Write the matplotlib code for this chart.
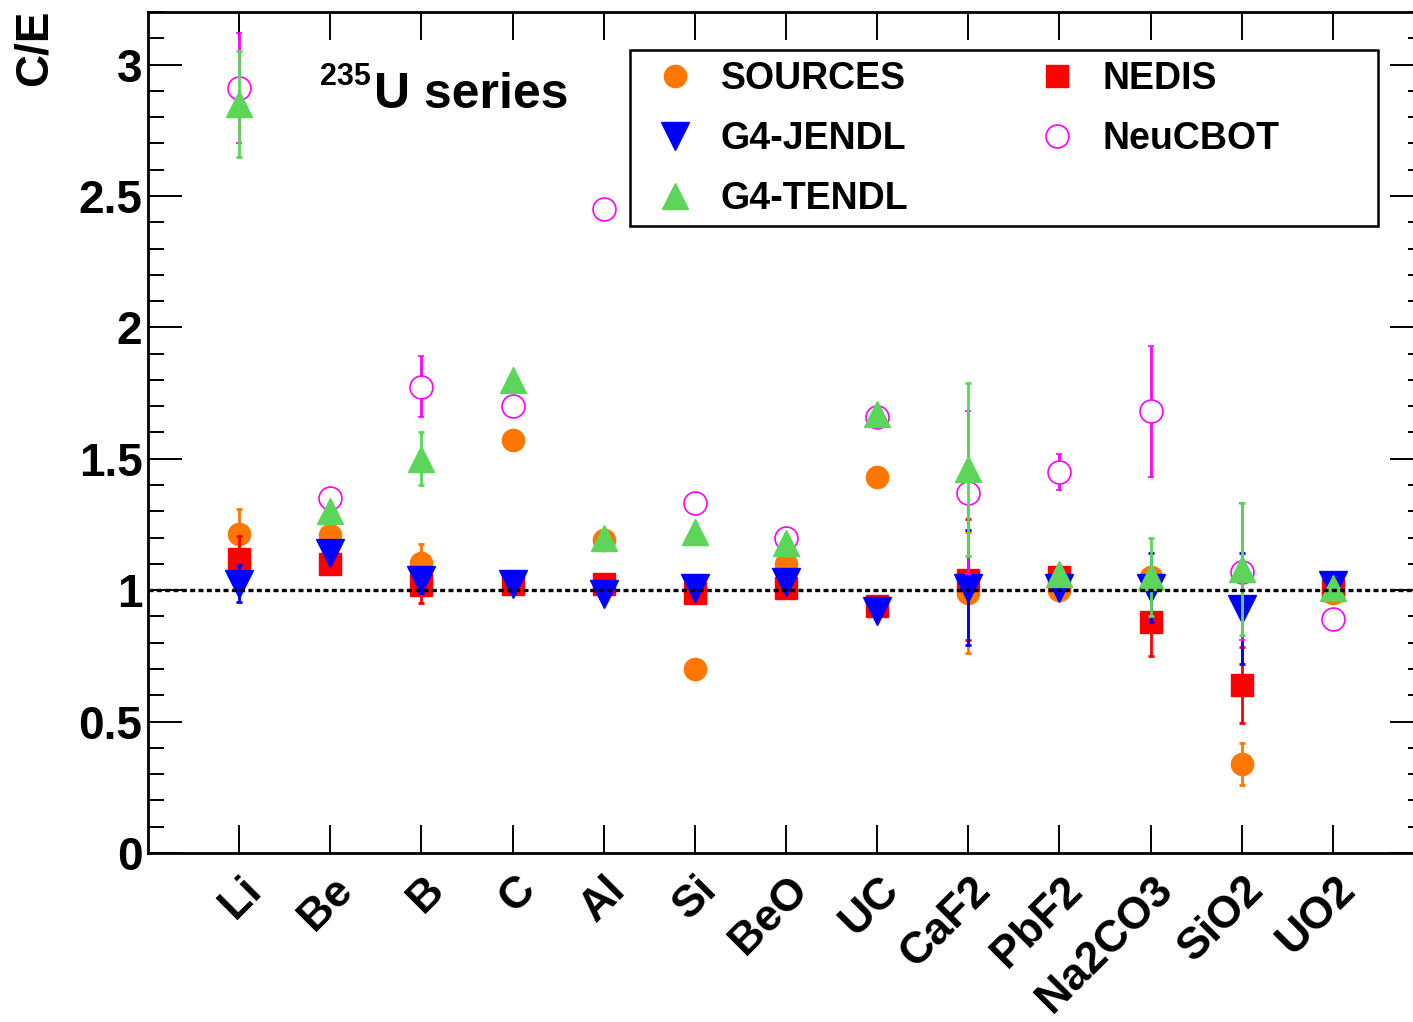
import numpy as np
import matplotlib
matplotlib.use('Agg')
import matplotlib.pyplot as plt
import matplotlib.transforms as mtransforms
from matplotlib.lines import Line2D
from matplotlib.patches import Rectangle
from matplotlib.ticker import MultipleLocator

plt.rcParams['font.family'] = ['Liberation Sans', 'DejaVu Sans']
plt.rcParams['font.weight'] = 'bold'

# --- DATA ---
categories = ['Li', 'Be', 'B', 'C', 'Al', 'Si', 'BeO', 'UC', 'CaF2', 'PbF2', 'Na2CO3', 'SiO2', 'UO2']

sources = [1.215, 1.21, 1.105, 1.57, 1.19, 0.70, 1.10, 1.43, 0.99, 1.00, 1.05, 0.34, 0.99]
sources_err = [0.095, 0, 0.07, 0, 0, 0, 0, 0, 0.23, 0, 0, 0.08, 0]

nedis = [1.12, 1.10, 1.02, 1.025, 1.025, 0.99, 1.01, 0.94, 1.04, 1.05, 0.88, 0.64, 1.00]
nedis_err = [0.085, 0, 0.07, 0, 0, 0, 0, 0, 0.23, 0, 0.13, 0.145, 0]

jendl = [1.025, 1.14, 1.04, 1.025, 0.985, 1.01, 1.03, 0.92, 1.01, 1.01, 1.01, 0.93, 1.02]
jendl_err = [0.07, 0, 0.05, 0, 0, 0, 0, 0, 0.22, 0, 0.13, 0.21, 0]

tendl = [2.85, 1.30, 1.50, 1.80, 1.20, 1.22, 1.18, 1.67, 1.46, 1.06, 1.05, 1.08, 1.01]
tendl_err = [0.20, 0, 0.10, 0, 0, 0, 0, 0, 0.33, 0, 0.15, 0.25, 0]

neucbot = [2.91, 1.35, 1.775, 1.70, 2.45, 1.33, 1.20, 1.66, 1.37, 1.45, 1.68, 1.07, 0.89]
neucbot_err = [0.21, 0, 0.115, 0, 0, 0, 0, 0, 0.31, 0.07, 0.25, 0.26, 0]

ORANGE = '#ff7700'
RED = '#ff0000'
BLUE = '#0000ff'
GREEN = '#5bd65b'
MAGENTA = '#ff00ff'

fig = plt.figure(figsize=(14.13, 10.22), dpi=100)
# frame runs slightly past the right image edge, like the original
ax = fig.add_axes([148 / 1413, 1 - 853 / 1022, (1424 - 148) / 1413, (853 - 12) / 1022])

x = np.arange(len(categories))
eb = dict(ls='none', elinewidth=2, capsize=2.4, capthick=2)

ax.errorbar(x, sources, yerr=sources_err, marker='o', ms=16, color=ORANGE, zorder=3, **eb)
ax.errorbar(x, nedis, yerr=nedis_err, marker='s', ms=15.5, color=RED, zorder=4, **eb)
ax.errorbar(x, jendl, yerr=jendl_err, marker='v', ms=20, color=BLUE, zorder=5, **eb)
ax.errorbar(x, neucbot, yerr=neucbot_err, marker='o', ms=16.5, color=MAGENTA,
            mfc='white', mec=MAGENTA, mew=1.2, zorder=6, **eb)
ax.errorbar(x, tendl, yerr=tendl_err, marker='^', ms=19, color=GREEN, zorder=7, **eb)

ax.axhline(1.0, color='black', lw=2.4, ls=(0, (1.5, 1.0)), zorder=10)

ax.set_xlim(-1, 13)
ax.set_ylim(0, 3.2)

# y axis, ROOT style ticks
ax.yaxis.set_minor_locator(MultipleLocator(0.1))
ax.set_yticks([0, 0.5, 1, 1.5, 2, 2.5, 3])
ax.set_yticklabels(['0', '0.5', '1', '1.5', '2', '2.5', '3'])
ax.tick_params(axis='y', which='major', direction='in', length=24.5, width=1.4,
               left=True, right=True, labelsize=33, pad=4)
ax.tick_params(axis='y', which='minor', direction='in', length=11.5, width=1.4,
               left=True, right=True)

ax.set_xticks(x)
ax.set_xticklabels(categories, rotation=45, ha='right', va='center',
                   rotation_mode='anchor', fontsize=32)
ax.tick_params(axis='x', which='major', direction='in', length=20, width=1.4,
               top=True, bottom=True, pad=22)
shift = mtransforms.ScaledTranslation(11.5 / 72, 0, fig.dpi_scale_trans)
for lab in ax.get_xticklabels():
    lab.set_transform(lab.get_transform() + shift)

for sp in ax.spines.values():
    sp.set_linewidth(2)

fig.text(35 / 1413, 1 - 10 / 1022, 'C/E', rotation=90, ha='center', va='top',
         fontsize=33, fontweight='bold')

ax.text(0.135, 0.913, '235', transform=ax.transAxes, fontsize=22,
        fontweight='bold', ha='left', va='baseline')
ax.text(0.177, 0.886, 'U series', transform=ax.transAxes, fontsize=36,
        fontweight='bold', ha='left', va='baseline')

# legend box drawn separately (it is wider than its contents)
ax.add_patch(Rectangle((0.3777, 0.7455), 0.586, 0.2095, transform=ax.transAxes,
                       facecolor='white', edgecolor='black', lw=1.8, zorder=19))

handles = [
    Line2D([], [], ls='none', marker='o', ms=16, color=ORANGE),
    Line2D([], [], ls='none', marker='v', ms=20, color=BLUE),
    Line2D([], [], ls='none', marker='^', ms=19, color=GREEN),
    Line2D([], [], ls='none', marker='s', ms=15.5, color=RED),
    Line2D([], [], ls='none', marker='o', ms=16.5, mfc='white', mec=MAGENTA, mew=1.2),
]
labels = ['SOURCES', 'G4-JENDL', 'G4-TENDL', 'NEDIS', 'NeuCBOT']
leg = ax.legend(handles, labels, ncol=2, loc='upper left',
                bbox_to_anchor=(0.3985, 0.9415), frameon=False,
                fontsize=27, handlelength=1.0, handletextpad=0.72,
                labelspacing=0.64, columnspacing=3.45,
                borderpad=0, borderaxespad=0)
leg.set_zorder(20)

fig.savefig('out.png', dpi=100)
